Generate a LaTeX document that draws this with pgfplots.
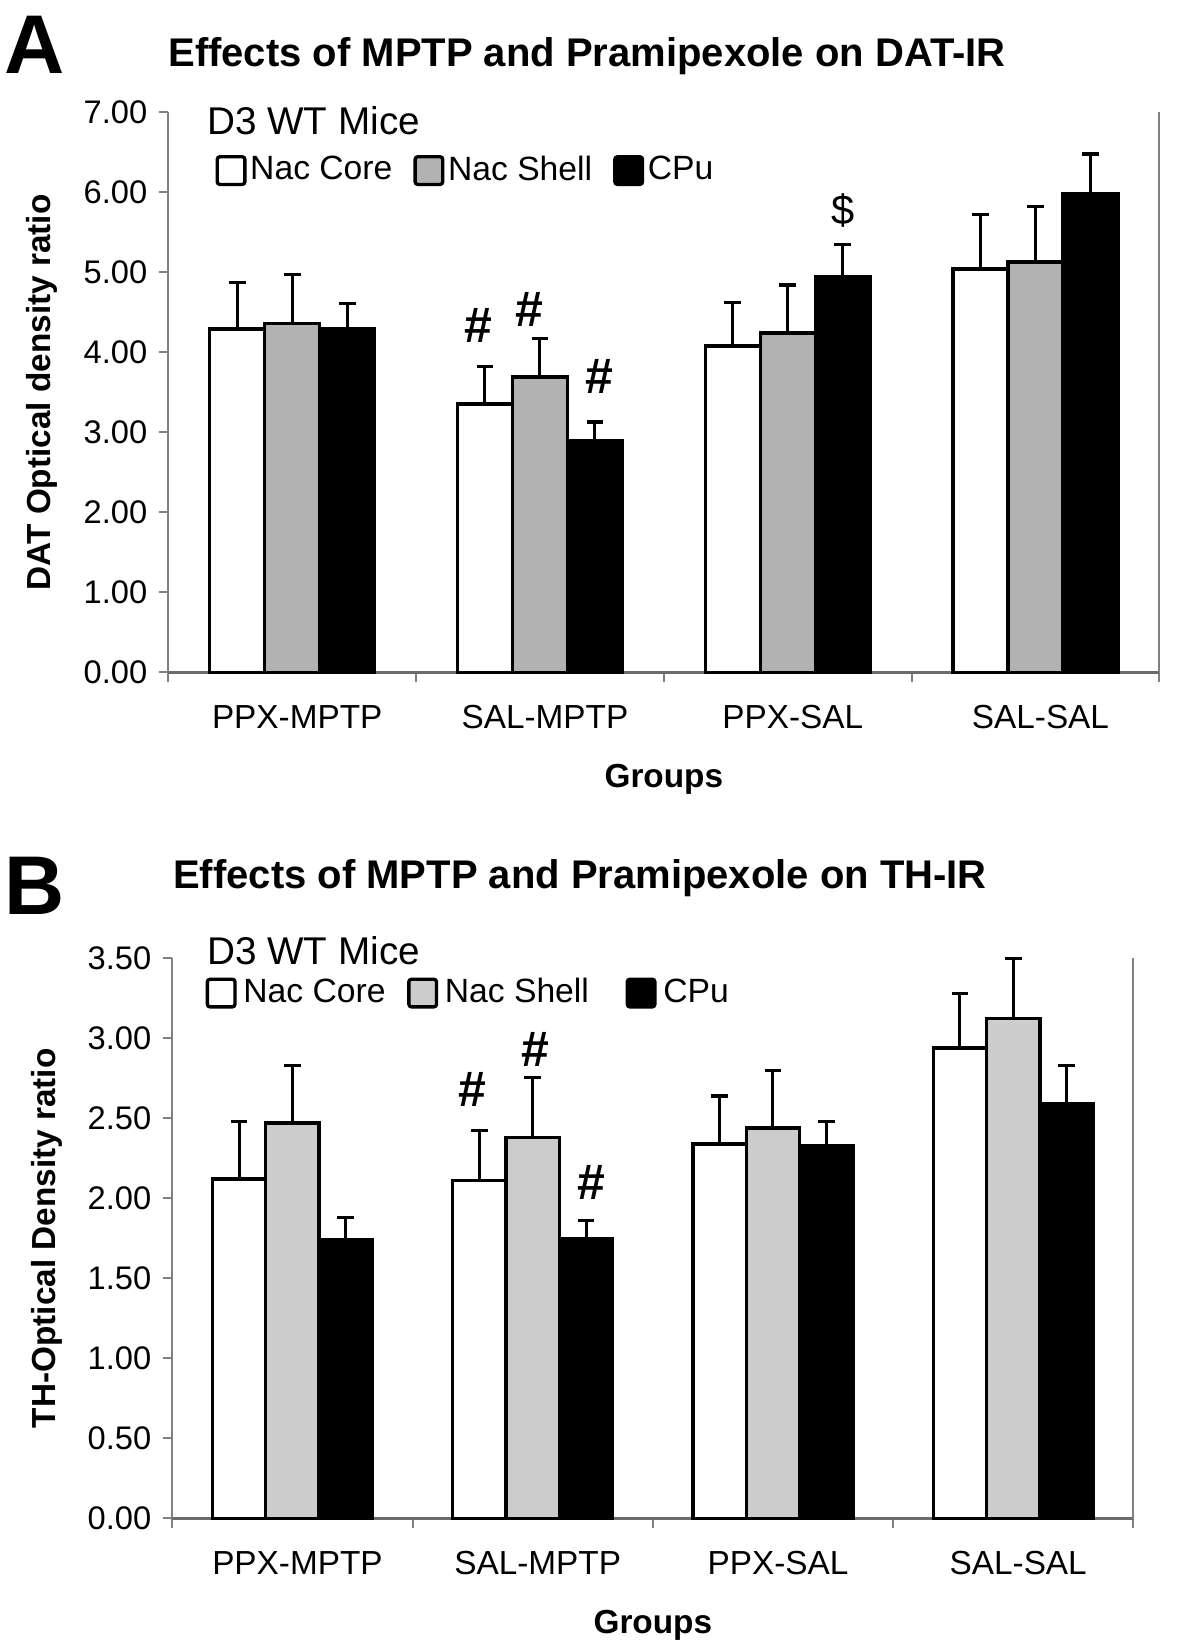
\documentclass[border=0pt]{standalone}
\usepackage{pgfplots}
\usepackage{pgfplotstable}
\pgfplotsset{compat=1.18}
\usepackage{fontspec}
\setmainfont{Liberation Sans}

\definecolor{grayA}{RGB}{178,178,178}
\definecolor{grayB}{RGB}{204,204,204}
\definecolor{axgray}{RGB}{128,128,128}

% DAT-IR (panel A): value and upper error length
\pgfplotstableread{
x core coreerr shell shellerr cpu cpuerr
0 4.29 0.585 4.36 0.61 4.29 0.32
1 3.355 0.47 3.69 0.48 2.89 0.24
2 4.08 0.54 4.24 0.60 4.95 0.40
3 5.04 0.68 5.13 0.69 5.98 0.50
}\datA

% TH-IR (panel B)
\pgfplotstableread{
x core coreerr shell shellerr cpu cpuerr
0 2.12 0.36 2.47 0.36 1.74 0.14
1 2.11 0.315 2.38 0.375 1.75 0.11
2 2.34 0.30 2.44 0.36 2.33 0.15
3 2.94 0.34 3.125 0.375 2.59 0.24
}\datB

\tikzset{hash/.style={font=\bfseries\fontsize{15}{17}\selectfont}}

\pgfplotsset{
  sqleg/.style={legend image code/.code={\draw[##1, line width=1pt, rounded corners=0.8pt] (0pt,-4.15pt) rectangle (8.3pt,4.15pt);}},
  errs/.style={error bars/y dir=plus, error bars/y explicit,
    error bars/error bar style={line width=0.9pt, black},
    error bars/error mark options={rotate=90, mark size=2.5pt, line width=1pt, black}},
  panel/.style={
    scale only axis, height=168pt, anchor=south west,
    ymin=0, xmin=-0.5, xmax=3.5, clip=false,
    ybar=0pt, bar width=0.222,
    axis lines=left,
    axis line style={-, draw=axgray, line width=0.6pt},
    x axis line style={draw=gray!85!black, line width=0.8pt},
    xtick={-0.5,0.5,1.5,2.5,3.5}, xticklabels={},
    extra x ticks={0,1,2,3},
    extra x tick labels={PPX-MPTP,SAL-MPTP,PPX-SAL,SAL-SAL},
    extra x tick style={major tick length=0pt, xticklabel style={anchor=center, yshift=-13.5pt, xshift=1.5pt, font=\fontsize{10}{12}\selectfont}},
    tick align=outside,
    major tick length=2.8pt,
    tick style={axgray, line width=0.6pt},
    yticklabel style={/pgf/number format/.cd, fixed, fixed zerofill, precision=2, assume math mode=true},
    tick label style={font=\fontsize{9.8}{11}\selectfont},
    xlabel={Groups},
    xlabel style={at={(axis description cs:0.5,0)}, anchor=center, yshift=-32pt, font=\bfseries\fontsize{10}{12}\selectfont},
    ylabel style={anchor=center, font=\bfseries\fontsize{10}{12}\selectfont},
    legend style={anchor=west, draw=none, fill=none, legend columns=3,
      font=\fontsize{10.1}{12}\selectfont, inner sep=0pt, nodes={inner sep=1.1pt},
      /tikz/every even column/.append style={column sep=5.2pt}},
  },
}

\begin{document}
\begin{tikzpicture}
\useasboundingbox (0,0) rectangle (360pt,-492.3pt);

% ---------- panel A ----------
\node[anchor=west, inner sep=0pt, font=\bfseries\fontsize{25}{29}\selectfont] at (1.0pt,-13.5pt) {A};
\node[font=\bfseries\fontsize{12}{14}\selectfont] at (176.1pt,-16.8pt) {Effects of MPTP and Pramipexole on DAT-IR};
\node[anchor=west, inner sep=0pt, font=\fontsize{11.6}{14}\selectfont] at (62pt,-36.2pt) {D3 WT Mice};

\begin{axis}[panel, at={(50.5pt,-201.7pt)}, width=297.3pt,
  ymax=7, ytick={0,1,...,7},
  ylabel={DAT Optical density ratio},
  ylabel style={at={(axis description cs:-0.1275,0.5)}},
  legend style={at={(0.047,0.896)}}]
\addplot[fill=white, draw=black, line width=1pt, errs, sqleg] table[x=x, y=core, y error=coreerr] {\datA};
\addlegendentry{Nac Core}
\addplot[fill=grayA, draw=black, line width=1pt, errs, sqleg] table[x=x, y=shell, y error=shellerr] {\datA};
\addlegendentry{Nac Shell}
\addplot[fill=black, draw=black, line width=1pt, errs, sqleg] table[x=x, y=cpu, y error=cpuerr] {\datA};
\addlegendentry{CPu}
\draw[axgray, line width=0.6pt] (rel axis cs:1,0) -- (rel axis cs:1,1);
\node[hash] at (axis cs:0.750,4.33) {\#};
\node[hash] at (axis cs:0.956,4.54) {\#};
\node[hash] at (axis cs:1.238,3.70) {\#};
\node[font=\fontsize{12.5}{15}\selectfont] at (axis cs:2.222,5.77) {\$};
\end{axis}

% ---------- panel B ----------
\node[anchor=west, inner sep=0pt, font=\bfseries\fontsize{25}{29}\selectfont] at (1.0pt,-265.8pt) {B};
\node[font=\bfseries\fontsize{12}{14}\selectfont] at (174pt,-263.4pt) {Effects of MPTP and Pramipexole on TH-IR};
\node[anchor=west, inner sep=0pt, font=\fontsize{11.6}{14}\selectfont] at (62pt,-285.2pt) {D3 WT Mice};

\begin{axis}[panel, at={(51.7pt,-455.5pt)}, width=288.3pt,
  ymax=3.5, ytick={0,0.5,...,3.5},
  ylabel={TH-Optical Density ratio},
  ylabel style={at={(axis description cs:-0.1304,0.5)}},
  legend style={at={(0.034,0.938)}, nodes={inner sep=2pt},
    /tikz/every even column/.append style={column sep=4.5pt}}]
\addplot[fill=white, draw=black, line width=1pt, errs, sqleg] table[x=x, y=core, y error=coreerr] {\datB};
\addlegendentry{Nac Core}
\addplot[fill=grayB, draw=black, line width=1pt, errs, sqleg] table[x=x, y=shell, y error=shellerr] {\datB};
\addlegendentry{Nac Shell\ \,}
\addplot[fill=black, draw=black, line width=1pt, errs, sqleg] table[x=x, y=cpu, y error=cpuerr] {\datB};
\addlegendentry{CPu}
\draw[axgray, line width=0.6pt] (rel axis cs:1,0) -- (rel axis cs:1,1);
\node[hash] at (axis cs:0.750,2.68) {\#};
\node[hash] at (axis cs:1.010,2.93) {\#};
\node[hash] at (axis cs:1.246,2.10) {\#};
\end{axis}
\end{tikzpicture}
\end{document}
